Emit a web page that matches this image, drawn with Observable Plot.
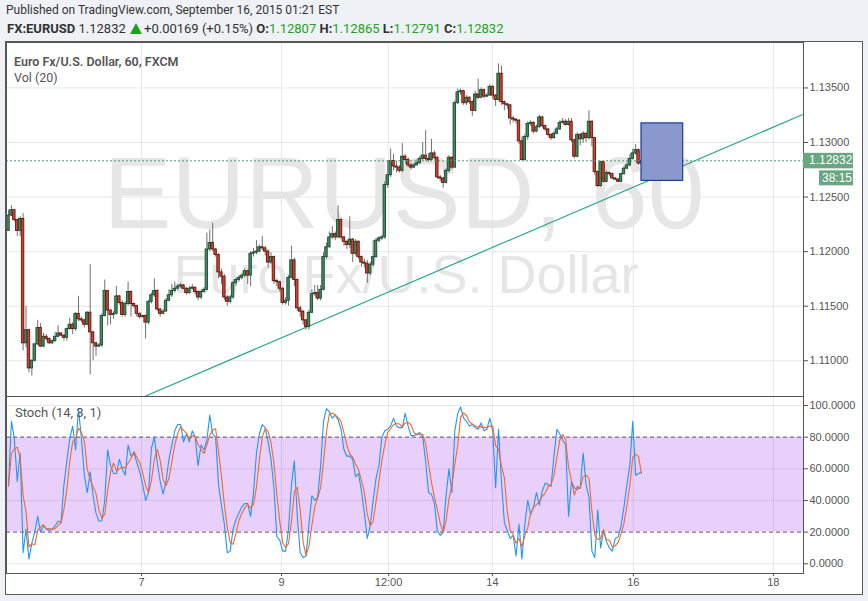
<!DOCTYPE html>
<html>
<head>
<meta charset="utf-8">
<script src="https://cdn.jsdelivr.net/npm/d3@7"></script>
<script src="https://cdn.jsdelivr.net/npm/@observablehq/plot@0.6"></script>
<style>
  html, body { margin: 0; padding: 0; background: #eef1f5; }
  #wrap { position: relative; width: 868px; height: 601px; overflow: hidden; background: #eef1f5; font-family: Roboto, "Open Sans", sans-serif; }
  .abs { position: absolute; }
  #frame { left: 5px; top: 41px; width: 856px; height: 552px; background: #fff; border: 1px solid #5a5a5a; }
  .hdr1 { left: 6px; top: 3px; font-size: 12px; color: #333; white-space: nowrap; }
  .hdr2 { left: 7px; top: 21px; font-size: 13px; color: #333; white-space: nowrap; }
  .hdr2 b { font-weight: 700; }
  .g { color: #1ea21e; }
  .tri { display: inline-block; width: 0; height: 0; border-left: 6px solid transparent; border-right: 6px solid transparent; border-bottom: 11px solid #1ea21e; vertical-align: -1px; margin: 0 2px 0 1px; }
  svg.plot { position: absolute; left: 0; }
</style>
</head>
<body>
<div id="wrap">
  <div id="frame" class="abs"></div>
  <div class="abs hdr1">Published on TradingView.com, September 16, 2015 01:21 EST</div>
  <div class="abs hdr2" id="hdr2"></div>
  <svg id="under" class="abs" width="868" height="601" style="left:0;top:0"></svg>
  <div id="mainHost" class="abs" style="left:0;top:42px"></div>
  <div id="stochHost" class="abs" style="left:0;top:396px"></div>
  <svg id="over" class="abs" width="868" height="601" style="left:0;top:0;pointer-events:none"></svg>
</div>
<script>
// ---------------- data (EUR/USD, FXCM, 60 min bars) ----------------
const firstOpen = 1.1219;
const barClose = [
1.1233,1.1238,1.1229,1.1219,1.1230,1.1116,1.1128,1.1093,1.1100,1.1115,
1.1130,1.1113,1.1122,1.1120,1.1116,1.1118,1.1122,1.1125,1.1123,1.1121,
1.1129,1.1133,1.1129,1.1143,1.1138,1.1137,1.1133,1.1144,1.1126,1.1116,
1.1113,1.1114,1.1141,1.1164,1.1146,1.1142,1.1143,1.1159,1.1153,1.1142,
1.1152,1.1163,1.1152,1.1150,1.1143,1.1140,1.1141,1.1135,1.1154,1.1160,
1.1164,1.1147,1.1143,1.1145,
1.1155,1.1160,1.1164,1.1166,1.1168,1.1169,1.1166,1.1162,1.1166,1.1167,
1.1163,1.1158,1.1163,
1.1165,1.1202,1.1208,1.1202,1.1197,1.1181,1.1177,1.1158,1.1154,1.1158,
1.1171,1.1174,1.1176,1.1178,1.1182,1.1178,1.1198,1.1199,1.1200,1.1204,
1.1203,1.1200,1.1190,1.1195,1.1173,1.1172,1.1166,1.1153,1.1155,1.1176,
1.1192,1.1174,1.1148,1.1145,1.1137,1.1131,
1.1144,1.1161,1.1162,1.1157,
1.1165,1.1195,1.1204,1.1213,1.1216,1.1213,1.1229,1.1213,1.1209,1.1206,
1.1211,1.1198,1.1209,1.1195,1.1190,1.1189,1.1180,1.1188,1.1195,1.1210,
1.1212,1.1213,1.1261,1.1270,1.1283,1.1278,1.1277,1.1274,1.1287,1.1284,
1.1279,1.1277,1.1279,1.1281,1.1285,1.1288,1.1285,1.1284,1.1290,1.1286,
1.1268,1.1267,1.1263,1.1274,1.1286,1.1277,
1.1336,1.1346,1.1347,1.1336,1.1341,1.1337,1.1329,1.1344,1.1341,1.1348,
1.1342,1.1343,1.1351,1.1343,1.1339,1.1363,1.1337,1.1335,1.1334,1.1322,
1.1321,1.1320,1.1301,1.1284,1.1305,1.1317,1.1318,1.1310,1.1314,1.1323,
1.1315,1.1312,1.1307,1.1304,1.1308,1.1312,1.1318,1.1319,1.1316,1.1319,
1.1302,1.1287,1.1307,1.1303,1.1308,1.1304,1.1319,1.1304,1.1273,1.1260,
1.1282,1.1264,1.1272,1.1271,1.1267,1.1266,1.1264,1.1271,1.1276,1.1279,
1.1285,1.1290,1.1293,1.12807,1.12832
];
const barHigh = [
1.1238,1.1242,1.1239,1.1229,1.1232,1.1235,1.1150,1.1129,1.1101,1.1116,
1.1137,1.1134,1.1125,1.1124,1.1121,1.1119,1.1126,1.1132,1.1126,1.1124,
1.1130,1.1139,1.1135,1.1144,1.1159,1.1140,1.1138,1.1145,1.1188,1.1127,
1.1117,1.1116,1.1143,1.1174,1.1164,1.1147,1.1145,1.1168,1.1160,1.1155,
1.1154,1.1172,1.1164,1.1153,1.1151,1.1144,1.1142,1.1142,1.1155,1.1162,
1.1175,1.1165,1.1148,1.1147,
1.1157,1.1165,1.1170,1.1172,1.1170,1.1171,1.1170,1.1167,1.1168,1.1170,
1.1167,1.1164,1.1164,
1.1167,1.1217,1.1220,1.1226,1.1203,1.1198,1.1184,1.1179,1.1160,1.1160,
1.1173,1.1176,1.1178,1.1180,1.1184,1.1183,1.1200,1.1203,1.1210,1.1206,
1.1214,1.1205,1.1202,1.1199,1.1196,1.1175,1.1173,1.1167,1.1158,1.1178,
1.1205,1.1194,1.1175,1.1150,1.1146,1.1138,
1.1146,1.1165,1.1169,1.1169,
1.1169,1.1199,1.1208,1.1218,1.1223,1.1218,1.1242,1.1230,1.1214,1.1210,
1.1232,1.1212,1.1211,1.1210,1.1196,1.1193,1.1192,1.1190,1.1210,1.1212,
1.1214,1.1215,1.1264,1.1283,1.1294,1.1289,1.1283,1.1279,1.1299,1.1289,
1.1286,1.1281,1.1281,1.1284,1.1287,1.1300,1.1311,1.1290,1.1303,1.1292,
1.1287,1.1270,1.1268,1.1276,1.1288,1.1287,
1.1338,1.1349,1.1349,1.1348,1.1343,1.1342,1.1338,1.1347,1.1358,1.1350,
1.1349,1.1345,1.1353,1.1352,1.1344,1.1372,1.1370,1.1338,1.1336,1.1335,
1.1324,1.1322,1.1321,1.1305,1.1307,1.1319,1.1320,1.1319,1.1316,1.1325,
1.1324,1.1316,1.1313,1.1308,1.1310,1.1314,1.1320,1.1322,1.1321,1.1322,
1.1322,1.1303,1.1309,1.1308,1.1310,1.1309,1.1329,1.1320,1.1305,1.1274,
1.1283,1.1283,1.1274,1.1273,1.1272,1.1268,1.1267,1.1272,1.1278,1.1281,
1.1289,1.1294,1.1298,1.1294,1.12865
];
const barLow = [
1.1219,1.1232,1.1227,1.1214,1.1214,1.1109,1.1112,1.1089,1.1086,1.1099,
1.1114,1.1112,1.1112,1.1118,1.1115,1.1115,1.1117,1.1121,1.1122,1.1118,
1.1118,1.1128,1.1124,1.1127,1.1136,1.1135,1.1130,1.1132,1.1087,1.1100,
1.1104,1.1112,1.1112,1.1140,1.1132,1.1133,1.1138,1.1142,1.1151,1.1140,
1.1140,1.1150,1.1140,1.1148,1.1140,1.1138,1.1139,1.1120,1.1133,1.1152,
1.1158,1.1145,1.1140,1.1142,
1.1145,1.1154,1.1158,1.1162,1.1164,1.1166,1.1165,1.1160,1.1161,1.1165,
1.1160,1.1155,1.1156,
1.1162,1.1164,1.1200,1.1200,1.1195,1.1175,1.1170,1.1155,1.1150,1.1152,
1.1156,1.1168,1.1172,1.1174,1.1176,1.1170,1.1168,1.1195,1.1197,1.1199,
1.1201,1.1196,1.1185,1.1188,1.1170,1.1168,1.1163,1.1151,1.1151,1.1150,
1.1175,1.1168,1.1145,1.1140,1.1133,1.1128,
1.1128,1.1143,1.1159,1.1155,
1.1155,1.1164,1.1193,1.1203,1.1211,1.1210,1.1212,1.1211,1.1205,1.1202,
1.1203,1.1190,1.1196,1.1193,1.1186,1.1185,1.1171,1.1178,1.1186,1.1194,
1.1208,1.1210,1.1211,1.1258,1.1268,1.1274,1.1272,1.1272,1.1272,1.1280,
1.1277,1.1275,1.1276,1.1279,1.1280,1.1283,1.1283,1.1282,1.1283,1.1284,
1.1266,1.1264,1.1258,1.1262,1.1272,1.1275,
1.1276,1.1335,1.1343,1.1334,1.1334,1.1335,1.1324,1.1328,1.1339,1.1340,
1.1340,1.1341,1.1342,1.1340,1.1333,1.1338,1.1334,1.1329,1.1330,1.1316,
1.1318,1.1317,1.1298,1.1283,1.1283,1.1302,1.1315,1.1308,1.1309,1.1313,
1.1313,1.1310,1.1305,1.1302,1.1303,1.1307,1.1311,1.1317,1.1315,1.1315,
1.1300,1.1285,1.1286,1.1297,1.1299,1.1300,1.1302,1.1296,1.1270,1.1259,
1.1259,1.1263,1.1263,1.1269,1.1266,1.1265,1.1263,1.1263,1.1270,1.1275,
1.1278,1.1284,1.1288,1.1279,1.12791
];
// Stochastic %K (blue), one value per bar
const stochK = [
49,90,79,52,70,7,22,3,13,20,
30,20,24,22,21,22,24,27,26,50,
65,79,87,72,98,79,56,45,58,43,
32,27,27,40,72,62,57,57,66,60,
56,75,68,70,64,58,50,40,45,73,
80,64,52,44,52,66,75,84,88,88,
77,82,77,84,80,62,75,72,78,94,
82,80,50,37,25,7,8,22,28,32,
36,38,38,30,45,70,82,88,86,77,
66,48,17,15,8,8,22,50,65,30,
7,4,5,25,43,40,42,62,90,98,
96,92,94,91,85,72,68,68,66,55,
57,46,32,16,24,40,54,62,80,84,
85,87,92,87,86,86,95,87,81,81,
82,83,80,65,45,44,38,21,18,20,
43,60,45,84,95,99,92,90,87,88,
86,85,89,84,85,92,84,48,85,52,
26,21,16,18,5,25,3,25,40,31,
36,45,37,46,51,50,49,68,85,82,
78,75,30,52,48,47,48,70,50,42,
8,4,34,10,21,14,10,8,16,17,
24,36,50,62,90,56,57,58
];
const dayTickIndex = [45.6, 93.6, 130.3, 165.9, 214.2, 262.2];
const dayTickLabel = ["7", "9", "12:00", "14", "16", "18"];
const priceTicks = [1.110, 1.115, 1.120, 1.125, 1.130, 1.135];
const stochTicks = [0, 20, 40, 60, 80, 100];
const stochBand = [20, 80];
const trendIndex = [46.66, 272.1];
const trendPrice = [1.10673, 1.13254];
const boxIndex = [217, 231.3];
const boxPrice = [1.12648, 1.13175];
const symbolName = "FX:EURUSD";
const changeText = "+0.00169 (+0.15%)";
const paneTitle = "Euro Fx/U.S. Dollar, 60, FXCM";
const volTitle = "Vol (20)";
const stochTitle = "Stoch (14, 3, 1)";
const watermark1 = "EURUSD, 60";
const watermark2 = "Euro Fx/U.S. Dollar";
const countdown = "38:15";

// ---------------- tables ----------------
const bars = barClose.map((c, i) => ({
  i, o: i === 0 ? firstOpen : barClose[i - 1], c, h: barHigh[i], l: barLow[i]
}));
bars.forEach(d => d.up = d.c >= d.o);
const stoch = stochK.map((k, i) => ({i, k}));
const trend = trendIndex.map((x, j) => ({x, y: trendPrice[j]}));
const last = bars[bars.length - 1];

const xDomain = [-0.686, 272.54];
const W = 868, ML = 6, MR = 65;
const tickMap = new Map(dayTickIndex.map((d, j) => [d, dayTickLabel[j]]));
const FONT = "Liberation Sans, Arial, sans-serif";
const UIFONT = "Roboto, Open Sans, sans-serif";
const gridColor = "#e6e6e6";

// header
document.getElementById("hdr2").innerHTML =
  `<b>${symbolName}</b> ${last.c.toFixed(5)} <span class="tri"></span>${changeText} ` +
  `<b>O:</b><span class="g">${last.o.toFixed(5)}</span> <b>H:</b><span class="g">${last.h.toFixed(5)}</span> ` +
  `<b>L:</b><span class="g">${last.l.toFixed(5)}</span> <b>C:</b><span class="g">${last.c.toFixed(5)}</span>`;

// ---------------- main price pane ----------------
const mainPlot = Plot.plot({
  width: W, height: 354,
  marginLeft: ML, marginRight: MR, marginTop: 0, marginBottom: 0,
  style: {background: "transparent", fontFamily: FONT, fontSize: "11px", color: "#555", overflow: "visible"},
  x: {domain: xDomain, axis: null},
  y: {domain: [1.106725, 1.139163], axis: "right", ticks: priceTicks, tickFormat: ".5f", tickSize: 4, tickPadding: 2, label: null},
  marks: [
    Plot.ruleY(priceTicks, {stroke: gridColor}),
    Plot.ruleX(dayTickIndex, {stroke: gridColor}),
    Plot.line(trend, {x: "x", y: "y", stroke: "#2aa58f", strokeWidth: 1.2}),
    Plot.ruleX(bars, {x: "i", y1: "l", y2: "h", stroke: "#707070", strokeWidth: 1}),
    Plot.rect(bars, {
      x1: d => d.i - 0.42, x2: d => d.i + 0.42, y1: "o", y2: "c",
      fill: d => d.up ? "#3f8c60" : "#d9402c",
      stroke: d => d.up ? "#1f4a33" : "#5e1a12", strokeWidth: 0.9
    }),
    Plot.ruleY([last.c], {stroke: "#4f9a6e", strokeDasharray: "2,2", strokeWidth: 1}),
    Plot.rect([0], {x1: boxIndex[0], x2: boxIndex[1], y1: boxPrice[0], y2: boxPrice[1], fill: "#8896cc", fillOpacity: 0.98, stroke: "#1c3c9a", strokeWidth: 1.2}),
    Plot.frame({stroke: "#555"})
  ]
});
document.getElementById("mainHost").appendChild(mainPlot);

// ---------------- stochastic pane ----------------
const stochPlot = Plot.plot({
  width: W, height: 198,
  marginLeft: ML, marginRight: MR, marginTop: 0, marginBottom: 21,
  style: {background: "transparent", fontFamily: FONT, fontSize: "11px", color: "#555", overflow: "visible"},
  x: {domain: xDomain, ticks: dayTickIndex, tickFormat: d => tickMap.get(d), tickSize: 3, tickPadding: 2, label: null},
  y: {domain: [-6.13, 105.69], axis: "right", ticks: stochTicks, tickFormat: ".4f", tickSize: 4, tickPadding: 2, label: null},
  marks: [
    Plot.rectY([0], {x1: xDomain[0], x2: xDomain[1], y1: stochBand[0], y2: stochBand[1], fill: "#e9cffc"}),
    Plot.ruleY(stochTicks.filter(v => !stochBand.includes(v)), {stroke: "#000", strokeOpacity: 0.09}),
    Plot.ruleX(dayTickIndex, {stroke: "#000", strokeOpacity: 0.09}),
    Plot.ruleY(stochBand, {stroke: "#5e5664", strokeDasharray: "4,3", strokeWidth: 1}),
    Plot.line(stoch, {x: "i", y: "k", stroke: "#2196f3", strokeWidth: 1.1}),
    Plot.line(stoch, Plot.windowY({k: 3, anchor: "end"}, {x: "i", y: "k", stroke: "#f4672a", strokeWidth: 1.1})),
    Plot.frame({stroke: "#555"})
  ]
});
document.getElementById("stochHost").appendChild(stochPlot);

// ---------------- decorations ----------------
const ns = "http://www.w3.org/2000/svg";
function txt(svg, s, attrs) {
  const t = document.createElementNS(ns, "text");
  for (const k in attrs) t.setAttribute(k, attrs[k]);
  t.textContent = s;
  svg.appendChild(t);
  return t;
}
function rect(svg, attrs) {
  const r = document.createElementNS(ns, "rect");
  for (const k in attrs) r.setAttribute(k, attrs[k]);
  svg.appendChild(r);
}
const under = document.getElementById("under");
txt(under, watermark1, {x: 404, y: 228, "text-anchor": "middle", "font-family": FONT, "font-size": 102, fill: "#e6e6e6"});
txt(under, watermark2, {x: 406, y: 293, "text-anchor": "middle", "font-family": FONT, "font-size": 54, fill: "#e6e6e6"});

const over = document.getElementById("over");
txt(over, paneTitle, {x: 14, y: 66, "font-family": UIFONT, "font-size": 12.5, "font-weight": 600, fill: "#555"});
txt(over, volTitle, {x: 14, y: 82, "font-family": UIFONT, "font-size": 12.5, fill: "#555"});
txt(over, stochTitle, {x: 15, y: 417, "font-family": UIFONT, "font-size": 13, fill: "#555"});

// last-price label placed via the main plot's y scale
const yLast = 42 + mainPlot.scale("y").apply(last.c);
rect(over, {x: 803, y: yLast - 7.5, width: 50, height: 15.5, fill: "#69a682"});
txt(over, last.c.toFixed(5), {x: 809, y: yLast + 4, "font-family": FONT, "font-size": 12, fill: "#fff"});
rect(over, {x: 819, y: yLast + 10, width: 34, height: 15, fill: "#69a682"});
txt(over, countdown, {x: 822, y: yLast + 21.5, "font-family": FONT, "font-size": 12, fill: "#fff"});
</script>
</body>
</html>
